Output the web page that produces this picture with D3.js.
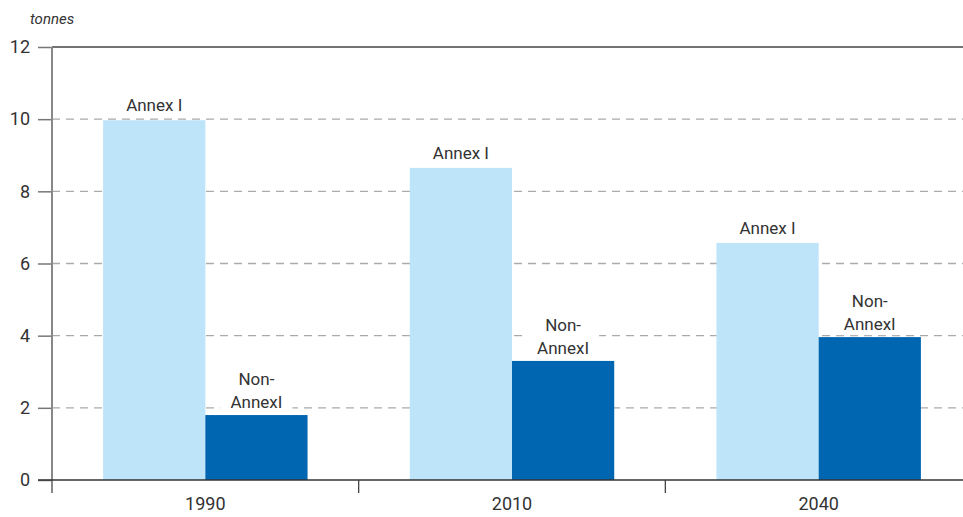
<!DOCTYPE html>
<html>
<head>
<meta charset="utf-8">
<script src="https://cdn.jsdelivr.net/npm/d3@7"></script>
<style>
  body { margin: 0; background: #fff; }
  text { font-family: Roboto, "DejaVu Sans", sans-serif; fill: #333; }
</style>
</head>
<body>
<div id="chart"></div>
<script>
// Data
const years = ["1990", "2010", "2040"];
const annexI = [9.97, 8.65, 6.57];
const nonAnnexI = [1.8, 3.3, 3.96];
const seriesNames = ["Annex I", "Non-AnnexI"];
const yTicks = [0, 2, 4, 6, 8, 10, 12];

const W = 963, H = 517;
const plotLeft = 52, plotRight = 972, plotTop = 47, plotBottom = 480;

const svg = d3.select("#chart")
    .append("svg")
    .attr("width", W)
    .attr("height", H);

const x = d3.scaleBand()
    .domain(years)
    .range([plotLeft, plotRight])
    .paddingInner(1 / 3)
    .paddingOuter(1 / 6);

const xSub = d3.scaleBand()
    .domain(seriesNames)
    .range([0, x.bandwidth()]);

const y = d3.scaleLinear()
    .domain([0, 12])
    .range([plotBottom, plotTop]);

// Grid lines (dashed) for inner ticks
svg.append("g")
    .selectAll("line")
    .data(yTicks.filter(d => d > 0 && d < 12))
    .enter()
    .append("line")
    .attr("x1", plotLeft)
    .attr("x2", W)
    .attr("y1", d => y(d))
    .attr("y2", d => y(d))
    .attr("stroke", "#aaa")
    .attr("stroke-width", 1.3)
    .attr("stroke-dasharray", "8,6");

// Top solid line at 12
svg.append("line")
    .attr("x1", plotLeft)
    .attr("x2", W)
    .attr("y1", y(12))
    .attr("y2", y(12))
    .attr("stroke", "#444")
    .attr("stroke-width", 1.3);

// Bars
const rows = years.map((yr, i) => ({ year: yr, values: [annexI[i], nonAnnexI[i]] }));
const colors = ["#bde4f9", "#0066b1"];

const groups = svg.append("g")
    .selectAll("g")
    .data(rows)
    .enter()
    .append("g")
    .attr("transform", d => `translate(${x(d.year)},0)`);

groups.selectAll("rect")
    .data(d => d.values.map((v, j) => ({ name: seriesNames[j], value: v, j: j })))
    .enter()
    .append("rect")
    .attr("x", d => xSub(d.name))
    .attr("y", d => y(d.value))
    .attr("width", xSub.bandwidth())
    .attr("height", d => y(0) - y(d.value))
    .attr("fill", d => colors[d.j]);

// Bar labels
groups.each(function(d) {
    const g = d3.select(this);
    const cxA = xSub("Annex I") + xSub.bandwidth() / 2;
    g.append("text")
        .attr("x", cxA)
        .attr("y", y(d.values[0]) - 9)
        .attr("text-anchor", "middle")
        .style("font-size", "17px")
        .text("Annex I");

    const cxN = xSub("Non-AnnexI") + xSub.bandwidth() / 2;
    const yN = y(d.values[1]);
    g.append("rect")
        .attr("x", cxN - 36)
        .attr("y", yN - 48)
        .attr("width", 72)
        .attr("height", 46)
        .attr("fill", "#fff");
    g.append("text")
        .attr("x", cxN)
        .attr("y", yN - 30)
        .attr("text-anchor", "middle")
        .style("font-size", "17px")
        .text("Non-");
    g.append("text")
        .attr("x", cxN)
        .attr("y", yN - 7)
        .attr("text-anchor", "middle")
        .style("font-size", "17px")
        .text("AnnexI");
});

// Y axis
const yAxis = svg.append("g")
    .attr("transform", `translate(${plotLeft},0)`)
    .call(d3.axisLeft(y).tickValues(yTicks).tickSize(14).tickPadding(8));
yAxis.select(".domain").remove();
yAxis.selectAll(".tick line").attr("stroke", "#777").attr("stroke-width", 1.5);
yAxis.selectAll(".tick text").style("font-size", "18px").attr("fill", "#333");

svg.append("line")
    .attr("x1", plotLeft)
    .attr("x2", plotLeft)
    .attr("y1", y(12))
    .attr("y2", 493)
    .attr("stroke", "#888")
    .attr("stroke-width", 2);

// X baseline
svg.append("line")
    .attr("x1", 38)
    .attr("x2", W)
    .attr("y1", y(0))
    .attr("y2", y(0))
    .attr("stroke", "#333")
    .attr("stroke-width", 1.3);

// X axis ticks between categories
svg.append("g")
    .selectAll("line")
    .data(years.slice(1).map(yr => x(yr) + x.bandwidth() / 2 - x.step() / 2))
    .enter()
    .append("line")
    .attr("x1", d => d)
    .attr("x2", d => d)
    .attr("y1", y(0))
    .attr("y2", 493)
    .attr("stroke", "#444")
    .attr("stroke-width", 1.3);

svg.append("g")
    .selectAll("text")
    .data(years)
    .enter()
    .append("text")
    .attr("x", d => x(d) + x.bandwidth() / 2)
    .attr("y", 510)
    .attr("text-anchor", "middle")
    .style("font-size", "18px")
    .text(d => d);

// Unit label
svg.append("text")
    .attr("x", 30)
    .attr("y", 24)
    .style("font-size", "15px")
    .style("font-style", "italic")
    .text("tonnes");
</script>
</body>
</html>
